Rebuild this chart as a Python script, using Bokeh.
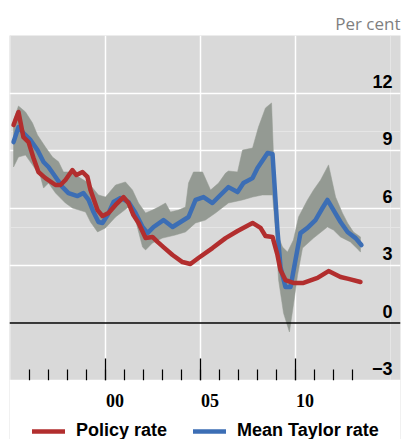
from bokeh.plotting import figure
from bokeh.models import (FixedTicker, Span, Legend, LegendItem, LabelSet,
                          ColumnDataSource, Range1d, Grid, BoxAnnotation)
from bokeh.core.properties import value
from bokeh.embed import file_html
from bokeh.resources import INLINE

# ---------------- data (per cent) ----------------
policy_years = [1995.16, 1995.42, 1995.68, 1995.95, 1996.21, 1996.47, 1996.84, 1997.37,
                1997.63, 1997.89, 1998.26, 1998.47, 1998.79, 1999.05, 1999.21, 1999.58,
                1999.84, 2000.16, 2000.53, 2000.95, 2001.21, 2001.47, 2001.74, 2002.11,
                2002.47, 2002.74, 2003.05, 2003.53, 2004.05, 2004.47, 2004.89, 2005.63,
                2006.32, 2006.95, 2007.74, 2008.16, 2008.42, 2008.79, 2009.05, 2009.21,
                2009.47, 2009.89, 2010.42, 2011.16, 2011.74, 2012.37, 2012.79, 2013.42]
policy_rate = [10.33, 11.01, 9.70, 9.44, 8.61, 7.88, 7.56, 7.20,
               7.20, 7.46, 7.98, 7.72, 7.88, 7.62, 6.94, 5.89,
               5.58, 5.74, 6.16, 6.57, 6.26, 5.63, 5.22, 4.43,
               4.49, 4.23, 3.96, 3.55, 3.18, 3.08, 3.39, 3.91,
               4.43, 4.80, 5.22, 4.96, 4.54, 4.49, 3.55, 2.76,
               2.24, 2.09, 2.09, 2.35, 2.71, 2.40, 2.30, 2.14]

taylor_years = [1995.16, 1995.42, 1995.68, 1996.05, 1996.42, 1996.74, 1997.00, 1997.37,
                1997.74, 1998.05, 1998.53, 1998.84, 1999.11, 1999.37, 1999.63, 1999.84,
                2000.11, 2000.42, 2000.79, 2001.21, 2001.58, 2001.95, 2002.21, 2002.53,
                2003.05, 2003.53, 2003.95, 2004.37, 2004.74, 2005.16, 2005.63, 2006.05,
                2006.47, 2006.95, 2007.26, 2007.74, 2008.00, 2008.53, 2008.79, 2008.89,
                2009.05, 2009.21, 2009.47, 2009.74, 2010.00, 2010.26, 2010.63, 2011.05,
                2011.42, 2011.68, 2012.00, 2012.37, 2012.74, 2013.16, 2013.47]
taylor_mean = [9.44, 10.22, 9.91, 9.55, 9.02, 8.40, 8.14, 7.62,
               7.09, 6.78, 6.62, 6.78, 6.42, 5.79, 5.27, 5.22,
               5.63, 6.31, 6.52, 6.31, 5.74, 5.01, 4.69, 5.01,
               5.37, 5.01, 5.27, 5.53, 6.42, 6.57, 6.26, 6.68,
               7.09, 6.83, 7.30, 7.56, 8.09, 8.87, 8.82, 7.30,
               4.85, 2.92, 1.88, 1.88, 3.29, 4.69, 4.96, 5.37,
               6.00, 6.42, 5.89, 5.27, 4.75, 4.43, 4.07]

band_upper_years = [1995.16, 1995.42, 1995.79, 1996.16, 1996.42, 1996.84, 1997.21, 1997.53,
                    1997.79, 1998.16, 1998.68, 1999.11, 1999.63, 2000.00, 2000.53, 2001.05,
                    2001.42, 2001.74, 2002.11, 2002.47, 2002.79, 2003.16, 2003.42, 2003.84,
                    2004.21, 2004.37, 2004.63, 2005.11, 2005.53, 2005.95, 2006.32, 2006.47,
                    2006.95, 2007.21, 2007.74, 2008.05, 2008.42, 2008.74, 2008.87, 2008.98,
                    2009.10, 2009.32, 2009.58, 2009.89, 2010.16, 2010.63, 2010.95, 2011.32,
                    2011.74, 2012.11, 2012.47, 2012.74, 2013.05, 2013.42]
band_upper = [10.59, 11.32, 11.01, 10.43, 9.81, 9.18, 8.66, 8.41,
              7.88, 7.88, 7.56, 7.30, 6.68, 6.57, 7.20, 7.36,
              6.94, 6.26, 5.74, 5.89, 6.05, 6.26, 5.79, 5.89,
              6.05, 7.30, 7.88, 7.88, 6.94, 7.30, 7.82, 7.93,
              7.88, 9.02, 9.13, 10.22, 11.22, 11.48, 8.00, 5.50,
              4.50, 3.96, 3.70, 4.33, 5.53, 6.42, 6.94, 7.46,
              8.25, 6.57, 5.74, 5.22, 4.75, 4.49]

band_lower_years = [1995.16, 1995.42, 1995.79, 1996.16, 1996.58, 1996.74, 1997.00, 1997.37,
                    1997.89, 1998.26, 1998.95, 1999.21, 1999.58, 2000.00, 2000.53, 2001.21,
                    2001.58, 2001.95, 2002.11, 2002.47, 2003.00, 2003.68, 2004.21, 2004.74,
                    2005.26, 2005.79, 2006.47, 2007.21, 2007.74, 2008.26, 2008.79, 2008.95,
                    2009.11, 2009.37, 2009.68, 2009.89, 2010.11, 2010.37, 2010.95, 2011.68,
                    2012.00, 2012.37, 2012.89, 2013.32, 2013.42]
band_lower = [8.14, 8.66, 8.76, 8.24, 7.62, 7.04, 7.30, 6.78,
              6.26, 6.00, 5.79, 5.27, 4.75, 4.96, 5.53, 6.05,
              5.37, 3.96, 3.81, 4.17, 4.43, 4.59, 4.75, 5.22,
              5.37, 5.74, 6.26, 6.42, 6.57, 6.68, 6.68, 4.85,
              2.24, 0.52, -0.47, 0.94, 2.50, 3.91, 4.43, 5.01,
              4.85, 4.49, 4.23, 3.81, 3.70]

x_major_years = [2000, 2005, 2010]
x_tick_labels = ["00", "05", "10"]
x_minor_years = list(range(1996, 2014))
y_ticks = [-3, 0, 3, 6, 9, 12]
y_tick_labels = ["\u22123", "0", "3", "6", "9", "12"]
series_names = ["Policy rate", "Mean Taylor rate"]

# ---------------- styling / layout ----------------
RED = "#b22e2e"
BLUE = "#3c6eb5"
BAND = "#949a93"
BG = "#d9d9d9"
FONT = "Liberation Sans"
W, H = 404, 439
LEFT, RIGHT, TOP = 9, 4, 35
PPX = 19.0            # pixels per year
PPU = 345.0 / 18.0    # pixels per percentage point
X0 = 2000 - (105 - LEFT) / PPX
X1 = X0 + (W - LEFT - RIGHT) / PPX
Y_TOP = 15.0
Y_AX = -3.0                       # bottom of the grey chart area
Y_BOT = Y_TOP - (H - TOP) / PPU   # frame continues down to the legend

p = figure(width=W, height=H, output_backend="svg", toolbar_location=None,
           x_range=Range1d(X0, X1), y_range=Range1d(Y_BOT, Y_TOP),
           x_axis_location=None, y_axis_location=None,
           min_border_left=LEFT, min_border_right=RIGHT,
           min_border_top=TOP, min_border_bottom=0)
p.background_fill_color = BG
p.border_fill_color = "white"
p.outline_line_color = None

# title "Per cent"
p.title.text = "Per cent"
p.title.align = "right"
p.title.text_font = "Open Sans"
p.title.text_font_size = "17px"
p.title.text_font_style = "normal"
p.title.text_color = "#7f7f7f"
p.title.standoff = 2

# grids
p.add_layout(Grid(dimension=0, ticker=FixedTicker(ticks=x_major_years),
                  grid_line_color="white", grid_line_width=1.5))
p.add_layout(Grid(dimension=1, ticker=FixedTicker(ticks=[t for t in y_ticks if t != 0]),
                  grid_line_color="white", grid_line_width=1.5))

# band of Taylor rates
band_x = band_upper_years + band_lower_years[::-1]
band_y = band_upper + band_lower[::-1]
p.patch(band_x, band_y, fill_color=BAND, line_color=BAND, line_width=0.5)

# lines
r_blue = p.line(taylor_years, taylor_mean, line_color=BLUE, line_width=4.5,
                line_join="round", line_cap="round")
r_red = p.line(policy_years, policy_rate, line_color=RED, line_width=4.5,
               line_join="round", line_cap="round")

# tick marks pointing up from the bottom of the chart area
p.segment(x0=x_minor_years, y0=[Y_AX] * len(x_minor_years),
          x1=x_minor_years, y1=[Y_AX + 11 / PPU] * len(x_minor_years),
          line_color="black", line_width=1.2)
p.segment(x0=x_major_years, y0=[Y_AX] * len(x_major_years),
          x1=x_major_years, y1=[Y_AX + 22 / PPU] * len(x_major_years),
          line_color="black", line_width=1.3)

# zero line
p.add_layout(Span(location=0, dimension="width", line_color="black", line_width=1.5))

# white area under the chart (x labels and legend live here)
p.add_layout(BoxAnnotation(top=Y_AX, fill_color="white", fill_alpha=1.0,
                           line_color=None))

# y tick labels inside plot on the right, above gridlines
ysrc = ColumnDataSource(dict(x=[X1] * len(y_ticks), y=y_ticks, text=y_tick_labels))
p.text(x="x", y="y", text="text", source=ysrc, text_align="right",
       text_baseline="middle", x_offset=-8, y_offset=-12,
       text_font=value(FONT), text_font_style="bold", text_font_size="18px",
       text_color="black")

# x tick labels centred on each labelled year
xsrc = ColumnDataSource(dict(x=[yr + 0.5 for yr in x_major_years],
                             y=[Y_AX - 20 / PPU] * len(x_major_years),
                             text=x_tick_labels))
p.add_layout(LabelSet(x="x", y="y", text="text", source=xsrc,
                      text_align="center", text_baseline="middle",
                      text_font=FONT, text_font_style="bold",
                      text_font_size="18px", text_color="black"))

# legend at the bottom
legend = Legend(items=[LegendItem(label=series_names[0], renderers=[r_red]),
                       LegendItem(label=series_names[1], renderers=[r_blue])],
                orientation="horizontal", location=(LEFT + 14, -2),
                padding=0, margin=0, spacing=26, label_standoff=11,
                glyph_width=33, glyph_height=20, label_height=20,
                border_line_color=None, background_fill_alpha=0,
                label_text_font=FONT, label_text_font_style="bold",
                label_text_font_size="18px", label_text_color="black")
p.add_layout(legend)

open("out.html", "w").write(file_html(p, INLINE))
